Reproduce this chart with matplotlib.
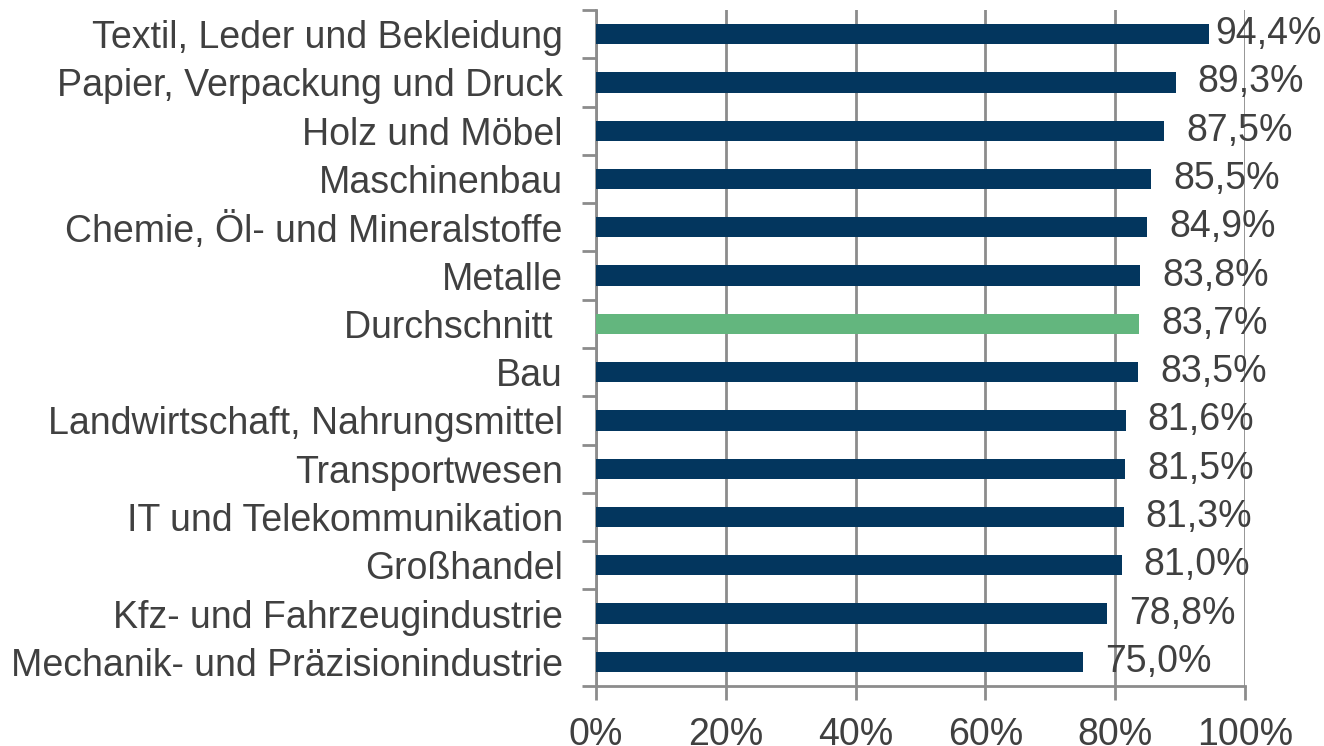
import matplotlib
matplotlib.use("Agg")
import matplotlib.pyplot as plt
import numpy as np

# data (top to bottom as in the chart)
categories = [
    "Textil, Leder und Bekleidung",
    "Papier, Verpackung und Druck",
    "Holz und Möbel",
    "Maschinenbau",
    "Chemie, Öl- und Mineralstoffe",
    "Metalle",
    "Durchschnitt ",
    "Bau",
    "Landwirtschaft, Nahrungsmittel",
    "Transportwesen",
    "IT und Telekommunikation",
    "Großhandel",
    "Kfz- und Fahrzeugindustrie",
    "Mechanik- und Präzisionindustrie",
]
values = [94.4, 89.3, 87.5, 85.5, 84.9, 83.8, 83.7, 83.5, 81.6, 81.5, 81.3, 81.0, 78.8, 75.0]
highlight = "Durchschnitt "

dark_blue = "#03365e"
green = "#63b67e"
grid_col = "#8c8c8c"
text_col = "#404040"

plt.rcParams["font.family"] = ["Liberation Sans", "DejaVu Sans"]

fig = plt.figure(figsize=(13.24, 7.46), dpi=100)
ax = fig.add_axes([596 / 1324, 1 - 686 / 746, (1245 - 596) / 1324, (686 - 10) / 746])

n = len(categories)
y = np.arange(n)[::-1]
colors = [green if c == highlight else dark_blue for c in categories]

ax.set_axisbelow(True)
ax.xaxis.grid(True, color=grid_col, linewidth=2)
ax.barh(y, values, height=0.42, color=colors, zorder=3)

for yi, v in zip(y, values):
    # the longest label is pulled in so it stays inside the figure
    off = 1.0 if v > 90 else 3.4
    ax.text(v + off, yi, f"{v:.1f}%".replace(".", ","), va="center", ha="left",
            fontsize=27, color=text_col, zorder=4)

ax.set_xlim(0, 100)
ax.set_ylim(-0.5, n - 0.5)
ax.set_xticks([0, 20, 40, 60, 80, 100])
ax.set_xticklabels([f"{t}%" for t in [0, 20, 40, 60, 80, 100]])

# category labels centred on bars, ticks on boundaries
ax.set_yticks(y)
ax.set_yticklabels(categories)
ax.set_yticks(np.arange(-0.5, n, 1.0), minor=True)
ax.tick_params(axis="y", which="major", length=0, pad=24, labelsize=27, labelcolor=text_col)
ax.tick_params(axis="y", which="minor", length=10, width=2, color=grid_col)
ax.tick_params(axis="x", length=10, width=2, color=grid_col, labelsize=27,
               labelcolor=text_col, pad=12)

for s in ["top", "right"]:
    ax.spines[s].set_visible(False)
for s in ["left", "bottom"]:
    ax.spines[s].set_color(grid_col)
    ax.spines[s].set_linewidth(2)

fig.savefig("out.png", dpi=100)
